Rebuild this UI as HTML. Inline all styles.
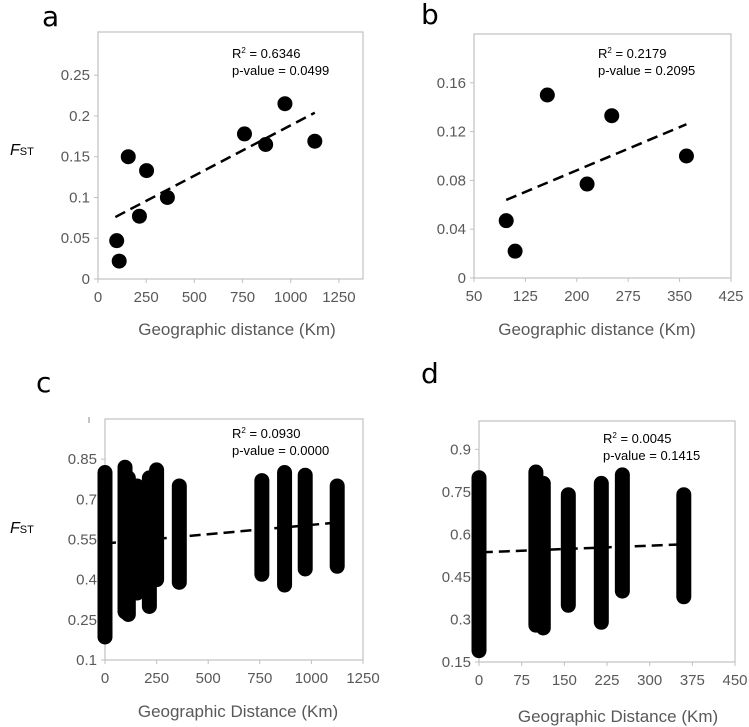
<!DOCTYPE html>
<html><head><meta charset="utf-8"><style>
body{margin:0;background:#fff}
svg{display:block;font-family:"Liberation Sans",Arial,sans-serif}
</style></head><body>
<svg id="fig" width="749" height="727" viewBox="0 0 749 727"></svg>
<script>
// Panel a data
const aDist=[97,110,157,215,252,360,760,870,970,1125];
const aFst=[0.047,0.022,0.150,0.077,0.133,0.100,0.178,0.165,0.215,0.169];
const aTrend=[[90,0.076],[1125,0.204]];
const aXTicks=[0,250,500,750,1000,1250];
const aYTicks=[0,0.05,0.1,0.15,0.2,0.25];
// Panel b data
const bDist=[97,110,157,215,251,360];
const bFst=[0.047,0.022,0.150,0.077,0.133,0.100];
const bTrend=[[97,0.064],[360,0.126]];
const bXTicks=[50,125,200,275,350,425];
const bYTicks=[0,0.04,0.08,0.12,0.16];
// Panel c data (column ranges of dense pairwise points)
const cDist=[0,97,113,155,215,250,360,760,870,970,1125];
const cMin=[0.186,0.28,0.27,0.35,0.30,0.40,0.39,0.42,0.38,0.44,0.45];
const cMax=[0.80,0.82,0.78,0.75,0.78,0.81,0.75,0.77,0.80,0.79,0.75];
const cTrend=[[0,0.535],[1150,0.615]];
const cXTicks=[0,250,500,750,1000,1250];
const cYTicks=[0.1,0.25,0.4,0.55,0.7,0.85];
// Panel d data
const dDist=[0,100,113,157,215,252,360];
const dMin=[0.19,0.28,0.27,0.35,0.29,0.40,0.38];
const dMax=[0.80,0.82,0.78,0.74,0.78,0.81,0.74];
const dTrend=[[5,0.537],[360,0.565]];
const dXTicks=[0,75,150,225,300,375,450];
const dYTicks=[0.15,0.3,0.45,0.6,0.75,0.9];

const NS="http://www.w3.org/2000/svg";
const svg=document.getElementById('fig');
function mk(tag,attrs,parent){const e=document.createElementNS(NS,tag);for(const k in attrs)e.setAttribute(k,attrs[k]);(parent||svg).appendChild(e);return e;}
function txt(s,x,y,size,fill,anchor,parent){const t=mk('text',{x:x,y:y,'font-size':size,fill:fill,'text-anchor':anchor||'start'},parent);t.textContent=s;return t;}

function panel(p){
  const g=mk('g',{});
  
  
  const sx=v=>p.L+(v-p.xmin)/(p.xmax-p.xmin)*(p.R-p.L);
  const sy=v=>p.B-(v-p.ymin)/(p.ymax-p.ymin)*(p.B-p.T);
  const box=mk('rect',{x:p.L,y:p.T,width:p.R-p.L,height:p.B-p.T,fill:'none',stroke:'#c0c0c0','stroke-width':1.2},g);
  
  
  p.xt.forEach(v=>{
    mk('line',{x1:sx(v),x2:sx(v),y1:p.B,y2:p.B+4,stroke:'#c0c0c0'},g);
    const t=txt(String(v),sx(v),p.B+23,15,'#595959','middle',g);
    
    
  });
  p.yt.forEach(v=>{
    mk('line',{x1:p.L-4,x2:p.L,y1:sy(v),y2:sy(v),stroke:'#c0c0c0'},g);
    const t=txt(String(v),p.L-8,sy(v)+5,15,'#595959','end',g);
    
    
  });
  if(p.pts){p.pts[0].forEach((x,i)=>{
    const c=mk('circle',{cx:sx(x),cy:sy(p.pts[1][i]),r:7.5,fill:'#000'},g);
    
    
  });}
  if(p.cols){p.cols[0].forEach((x,i)=>{
    const y1=sy(p.cols[2][i]),y2=sy(p.cols[1][i]);
    const r=mk('rect',{x:sx(x)-7.5,y:y1-7.5,width:15,height:y2-y1+15,rx:7.5,ry:7.5,fill:'#000'},g);
    
    
  });}
  const tl=mk('line',{x1:sx(p.tr[0][0]),y1:sy(p.tr[0][1]),x2:sx(p.tr[1][0]),y2:sy(p.tr[1][1]),stroke:'#000','stroke-width':2.5,'stroke-dasharray':'11,6'},g);
  
  
  const st=mk('text',{x:p.ax,y:p.ay,'font-size':13,fill:'#000'},g);
  st.innerHTML='R<tspan dy="-5" font-size="8">2</tspan><tspan dy="5"> = '+p.r2+'</tspan>';
  
  
  const pv=txt('p-value = '+p.pv,p.ax,p.ay+17,13,'#000','start',g);
  
  
  const xt=txt(p.xtitle,p.xtx,p.xty,17,'#595959','middle',g);
  
  
  const lb=mk('text',{x:p.lx,y:p.ly,'font-size':28,fill:'#000','font-family':'"DejaVu Sans","Liberation Sans",sans-serif'},g);
  lb.textContent=p.id;
  
  
  if(p.fy){
    const f=mk('text',{x:10,y:p.fy,'font-size':16,fill:'#000'},g);
    f.innerHTML='<tspan font-style="italic">F</tspan><tspan font-size="11">ST</tspan>';
    
    
  }
}

panel({id:'a',L:98,R:363,T:32,B:279,xmin:0,xmax:1375,ymin:0,ymax:0.303,xt:aXTicks,yt:aYTicks,pts:[aDist,aFst],tr:aTrend,r2:'0.6346',pv:'0.0499',ax:232,ay:58,xtitle:'Geographic distance (Km)',xtx:237,xty:335,lx:42,ly:26,fy:155});
panel({id:'b',L:474,R:731,T:34,B:278,xmin:50,xmax:425,ymin:0,ymax:0.2,xt:bXTicks,yt:bYTicks,pts:[bDist,bFst],tr:bTrend,r2:'0.2179',pv:'0.2095',ax:598,ay:58,xtitle:'Geographic distance (Km)',xtx:597,xty:335,lx:421,ly:24});
panel({id:'c',L:105,R:363,T:419,B:660,xmin:0,xmax:1250,ymin:0.1,ymax:1.0,xt:cXTicks,yt:cYTicks,cols:[cDist,cMin,cMax],tr:cTrend,r2:'0.0930',pv:'0.0000',ax:232,ay:438,xtitle:'Geographic Distance (Km)',xtx:238,xty:717,lx:36,ly:392,fy:533});
panel({id:'d',L:479,R:735,T:421,B:662,xmin:0,xmax:450,ymin:0.15,ymax:1.0,xt:dXTicks,yt:dYTicks,cols:[dDist,dMin,dMax],tr:dTrend,r2:'0.0045',pv:'0.1415',ax:603,ay:443,xtitle:'Geographic Distance (Km)',xtx:618,xty:722,lx:421,ly:383});
mk('line',{x1:89,x2:89,y1:417,y2:423,stroke:'#888'});
</script>
</body></html>
